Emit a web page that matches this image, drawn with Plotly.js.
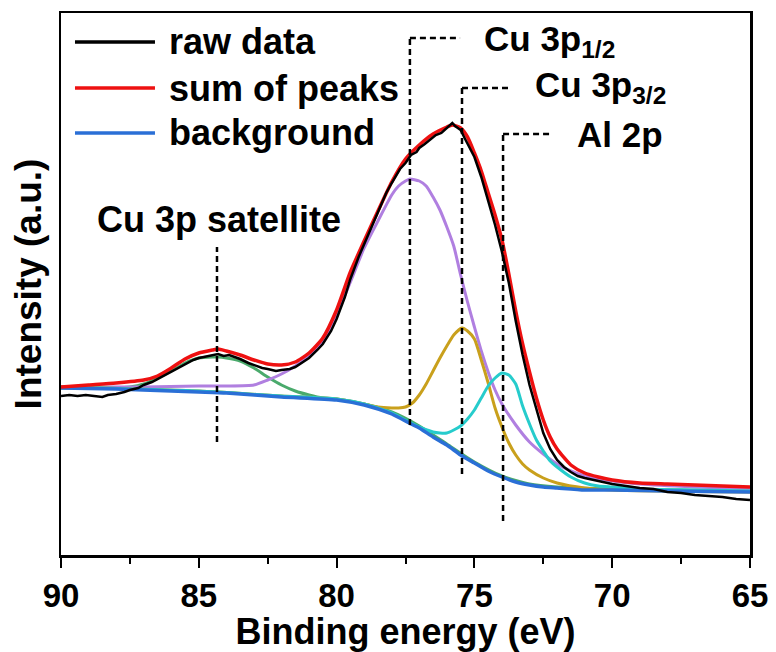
<!DOCTYPE html>
<html>
<head>
<meta charset="utf-8">
<script src="https://cdn.plot.ly/plotly-3.0.1.min.js"></script>
<style>
html,body{margin:0;padding:0;background:#fff;}
#chart{width:776px;height:652px;}
</style>
</head>
<body>
<div id="chart"></div>
<script>
// ---------- DATA (arbitrary intensity units) ----------
const xRaw = [90,89.7,89.4,89.1,88.8,88.5,88.3,88,87.7,87.5,87.2,87,86.7,86.5,86.2,86,85.7,85.5,85.2,85,84.7,84.5,84.3,84.1,83.9,83.7,83.5,83.2,83,82.7,82.5,82.2,82,81.7,81.5,81.2,81,80.7,80.5,80.2,80,79.7,79.5,79.2,79,78.7,78.5,78.2,78,77.7,77.5,77.3,77.1,77,76.8,76.6,76.4,76.2,76,75.9,75.8,75.7,75.5,75.3,75,74.75,74.5,74.25,74,73.75,73.5,73.25,73,72.75,72.5,72.25,72,71.75,71.5,71.25,71,70.5,70,69.5,69,68.5,68,67.5,67,66.5,66,65.5,65];
const yRaw = [159,160,159,160,159,158,160,161,163,165,167,170,173,176,180,183,188,191,195,197,199,200,201,199,200,198,196,192,190,187,186,184,185,186,188,193,197,205,211,224,236,258,276,298,311,330,343,362,372,386,392,400,403,407,411,416,420,422,427,430,432,429,425,414,398,378,355,330,303,272,234,200,170,145,122,106,95,88,83,79,77,74,71,69,67,66,63,62,60,59,58,56,55];

const xSum = [90,89,88,87,86.5,86,85.5,85,84.5,84.3,84,83.5,83,82.5,82,81.5,81,80.5,80,79.5,79,78.5,78,77.5,77,76.5,76,75.8,75.5,75.25,75,74.75,74.5,74.25,74,73.75,73.5,73.25,73,72.75,72.5,72.25,72,71.5,71,70.5,70,69,68,67,66,65];
const ySum = [168,170,172,175,179,187,196,202,205,206,204,200,195,191,190,193,202,217,245,283,314,344,373,396,410,421,428,430,427,418,402,384,362,340,315,281,244,211,183,157,135,118,106,90,82,78,75,72,71,70,69,68];

const xBg = [90,88,86,85,84,82,80,79,78,77.3,77,76.5,76,75.5,75,74.5,74,73.5,73,72.5,72,71,70,68,65];
const yBg = [167,166,164,163,162,158,155,150,141,131,127,118,110,100,92,84,78,73,70,68,67,65,65,64,63];

const xSat = [90,89,88,87.5,87,86.5,86,85.5,85,84.5,84.3,84,83.5,83,82.5,82,81.5,81,80.5,80,79,78,77,76,75,74,73,72,70,65];
const ySat = [167,167,167,168,171,177,184,192,197,198,198,197,194,187,178,170,164,160,157,156,151,143,129,111,93,79,71,68,66,64];

const xP12 = [90,87,85,84,83,82.5,82,81.5,81,80.5,80,79.5,79,78.5,78,77.75,77.5,77.34,77,76.75,76.5,76.25,76,75.75,75.5,75.25,75,74.75,74.5,74.25,74,73.5,73,72.5,72,71.5,71,70,69,67,65];
const yP12 = [168,168,169,169,170,175,181,189,199,213,240,273,307,334,360,369,374,376,374,369,358,345,328,309,280,253,228,204,183,165,151,130,113,101,91,84,79,74,71,68,66];

const xP32 = [90,85,82,80,79,78.5,78,77.75,77.5,77.25,77,76.75,76.5,76.25,76,75.75,75.45,75.25,75,74.75,74.5,74.25,74,73.75,73.5,73.25,73,72.5,72,71,70,65];
const yP32 = [168,164,159,156,151,148,147,147,148,152,160,171,184,197,209,220,227,224,216,195,172,147,128,112,100,91,85,77,72,67,65,63];

const xAl = [90,85,82,80,79,78.5,78,77.5,77,76.5,76.25,76,75.75,75.5,75.25,75,74.75,74.5,74.25,74,73.75,73.5,73.25,73,72.75,72.5,72.25,72,71.5,71,70.5,70,69,67,65];
const yAl = [168,164,159,156,151,147,142,135,128,123,122,122,125,129,136,145,157,169,177,182,180,171,149,131,115,104,94,88,78,72,69,68,66,65,64];

// peak markers (eV) and labels
const peakNames = ['Cu 3p satellite','Cu 3p<sub>1/2</sub>','Cu 3p<sub>3/2</sub>','Al 2p'];
const peakPos   = [84.34, 77.34, 75.45, 73.96];
const legendNames = ['raw data','sum of peaks','background'];

// ---------- STYLE ----------
const FONT = 'Liberation Sans, Arial, Helvetica, sans-serif';
const cRaw='#000000', cSum='#ee1111', cBg='#2a6fd6', cSat='#4aaa6c', cP12='#b07fe0', cP32='#c9a01c', cAl='#26cccc';

function tr(x,y,color,w,shape){
  return {x:x,y:y,type:'scatter',mode:'lines',showlegend:false,hoverinfo:'skip',
          line:{color:color,width:w,shape:shape||'spline',smoothing:0.6}};
}
const data = [
  tr(xSat,ySat,cSat,3),
  tr(xP12,yP12,cP12,3),
  tr(xP32,yP32,cP32,3),
  tr(xAl,yAl,cAl,3),
  tr(xBg,yBg,cBg,3.5),
  tr(xSum,ySum,cSum,3.5),
  tr(xRaw,yRaw,cRaw,2.5,'linear')
];

// marker dashed lines: [vertical top, vertical bottom, horizontal end (eV)]
const vTop = [308, 517, 467, 421];
const vBot = [113, 130, 81, 34];
const hEnd = [null, 75.52, 73.71, 72.18];
const shapes = [];
const dashStyle = {color:'#000',width:2.5,dash:'6px,4px'};
for (let i=0;i<peakPos.length;i++){
  shapes.push({type:'line',xref:'x',yref:'y',x0:peakPos[i],x1:peakPos[i],y0:vBot[i],y1:vTop[i],line:dashStyle});
  if (hEnd[i]!==null){
    shapes.push({type:'line',xref:'x',yref:'y',x0:peakPos[i],x1:hEnd[i],y0:vTop[i],y1:vTop[i],line:dashStyle});
  }
}
// manual legend (long line samples)
const legColors=[cRaw,cSum,cBg];
const legY=[0.9465,0.8616,0.7786];
const annotations=[];
for (let i=0;i<3;i++){
  shapes.push({type:'line',xref:'paper',yref:'paper',x0:0.0203,x1:0.1364,y0:legY[i],y1:legY[i],line:{color:legColors[i],width:3.5}});
  annotations.push({xref:'paper',yref:'paper',x:0.1538,y:legY[i],xanchor:'left',yanchor:'middle',showarrow:false,
     text:legendNames[i],font:{family:FONT,size:36,color:'#000',weight:'bold'}});
}
// peak labels
const labX=[88.77,74.72,72.87,71.35];
const labY=[336,514,468,421];
const labSize=[36,35,35,35];
for (let i=0;i<peakNames.length;i++){
  annotations.push({xref:'x',yref:'y',x:labX[i],y:labY[i],xanchor:'left',yanchor:'middle',showarrow:false,
     text:peakNames[i],font:{family:FONT,size:labSize[i],color:'#000',weight:'bold'}});
}

const layout = {
  width:776,height:652,
  margin:{l:61,r:26,t:13,b:97},
  paper_bgcolor:'#fff',plot_bgcolor:'#fff',
  showlegend:false,
  xaxis:{range:[90,65],showgrid:false,zeroline:false,showline:true,linecolor:'#000',linewidth:2.5,mirror:true,
         ticks:'outside',ticklen:10,tickwidth:2,tickcolor:'#000',tick0:90,dtick:5,
         minor:{ticks:'outside',ticklen:6,tickwidth:2,tickcolor:'#000',dtick:2.5},
         tickfont:{family:FONT,size:33,color:'#000',weight:'bold'},
         title:{text:'Binding energy (eV)',font:{family:FONT,size:36,color:'#000',weight:'bold'},standoff:8}},
  yaxis:{range:[0,542],showgrid:false,zeroline:false,showline:true,linecolor:'#000',linewidth:2.5,mirror:true,
         ticks:'',showticklabels:false,
         title:{text:'Intensity (a.u.)',font:{family:FONT,size:37,color:'#000',weight:'bold'},standoff:6}},
  shapes:shapes,
  annotations:annotations
};
Plotly.newPlot('chart',data,layout,{staticPlot:true,displayModeBar:false});
</script>
</body>
</html>
